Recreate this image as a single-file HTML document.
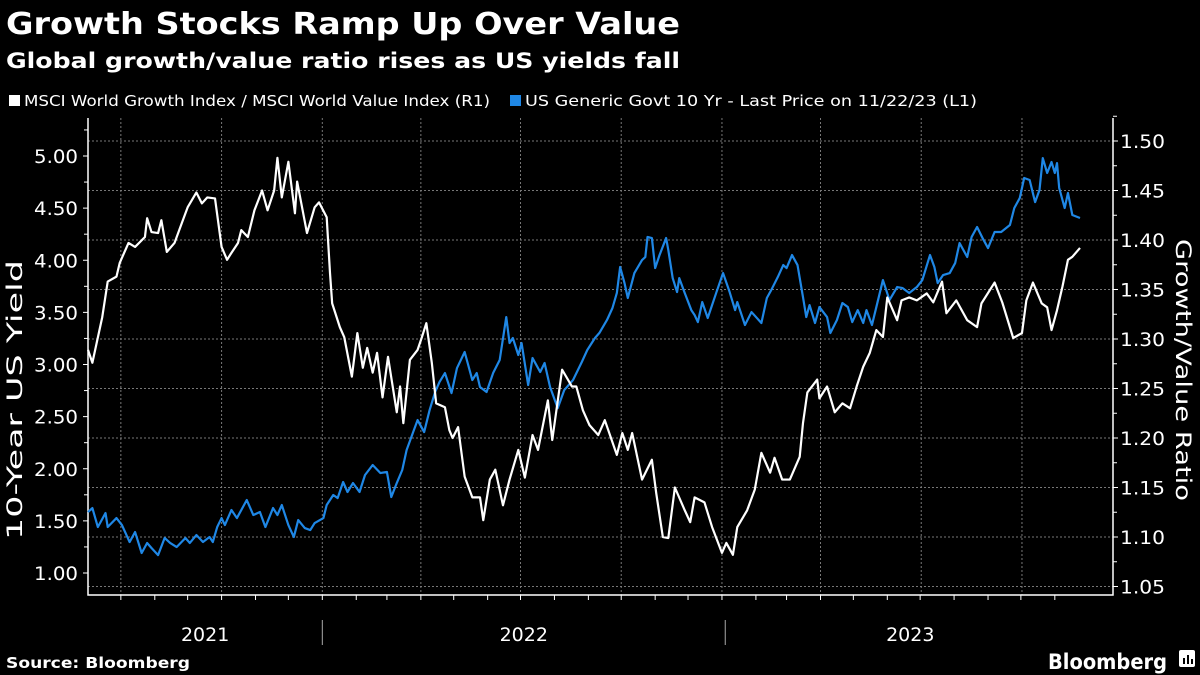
<!DOCTYPE html>
<html><head><meta charset="utf-8">
<style>
body{margin:0;background:#000;width:1200px;height:675px;overflow:hidden;font-family:"DejaVu Sans","Liberation Sans",sans-serif;color:#fff}
svg{position:absolute;left:0;top:0}
</style></head>
<body>
<svg id="chart" width="1200" height="675">
<text x="6" y="34" font-size="30" font-weight="bold" fill="#fff" textLength="674" lengthAdjust="spacingAndGlyphs">Growth Stocks Ramp Up Over Value</text>
<text x="6" y="68" font-size="21" font-weight="bold" fill="#fff" textLength="674" lengthAdjust="spacingAndGlyphs">Global growth/value ratio rises as US yields fall</text>
<g>
<rect x="9" y="95" width="11" height="11" fill="#fff"/>
<text x="24" y="106" font-size="15" fill="#fff" textLength="466" lengthAdjust="spacingAndGlyphs">MSCI World Growth Index / MSCI World Value Index (R1)</text>
<rect x="510" y="95" width="11" height="11" fill="#1f87e5"/>
<text x="525" y="106" font-size="15" fill="#fff" textLength="452" lengthAdjust="spacingAndGlyphs">US Generic Govt 10 Yr - Last Price on 11/22/23 (L1)</text>
</g>
<text transform="translate(22,400) rotate(-90)" text-anchor="middle" font-size="21" fill="#fff" textLength="280" lengthAdjust="spacingAndGlyphs">10-Year US Yield</text>
<text transform="translate(1176,370) rotate(90)" text-anchor="middle" font-size="21" fill="#fff" textLength="262" lengthAdjust="spacingAndGlyphs">Growth/Value Ratio</text>
<text x="6" y="668" font-size="15" font-weight="bold" fill="#fff" textLength="184" lengthAdjust="spacingAndGlyphs">Source: Bloomberg</text>
<text x="1048" y="669" font-size="21" font-weight="bold" fill="#fff" textLength="119" lengthAdjust="spacingAndGlyphs">Bloomberg</text>
<g><rect x="1179" y="650" width="16" height="17" rx="2" fill="#fff"/><rect x="1183" y="658" width="2" height="6" fill="#000"/><rect x="1187" y="655" width="2" height="9" fill="#000"/><rect x="1191" y="659" width="2" height="5" fill="#000"/></g>
<g id="grid"></g><g id="axes"></g><g id="series"></g>
</svg>
<script>
const yieldDays=[0,4,9,16,18,26,31,38,43,49,54,58,64,70,75,81,89,93,99,105,111,114,118,122,125,131,136,145,151,157,162,169,173,177,183,188,192,198,203,207,215,218,224,228,233,237,242,248,253,260,267,273,277,282,287,291,297,301,307,312,317,321,326,332,337,344,351,355,358,364,370,376,382,385,388,393,396,402,406,413,417,422,429,435,443,451,456,463,467,474,479,483,486,490,493,499,506,509,511,515,518,522,528,530,534,538,540,545,551,554,557,561,566,574,580,586,591,593,600,606,615,620,624,630,635,638,643,648,653,656,659,664,668,675,678,684,689,694,698,703,708,711,716,720,726,732,739,744,750,757,762,769,773,776,781,787,792,796,803,807,812,817,822,828,834,842,846,851,855,860,865,869,872,876,880,883,885,887,892,895,899,906];
const yieldValues=[1.585,1.623,1.441,1.575,1.441,1.527,1.460,1.297,1.393,1.192,1.288,1.240,1.172,1.336,1.288,1.249,1.336,1.288,1.364,1.297,1.345,1.297,1.441,1.527,1.460,1.604,1.527,1.700,1.556,1.585,1.441,1.623,1.556,1.652,1.460,1.345,1.508,1.431,1.412,1.479,1.527,1.652,1.748,1.719,1.873,1.777,1.863,1.777,1.940,2.036,1.959,1.969,1.729,1.863,1.988,2.180,2.352,2.467,2.352,2.563,2.736,2.832,2.918,2.726,2.966,3.120,2.851,2.918,2.784,2.736,2.918,3.043,3.455,3.206,3.254,3.091,3.206,2.803,3.062,2.928,3.014,2.784,2.582,2.755,2.851,3.024,3.139,3.254,3.302,3.427,3.542,3.686,3.935,3.781,3.638,3.877,4.002,4.031,4.223,4.213,3.925,4.050,4.213,4.098,3.829,3.695,3.829,3.686,3.522,3.475,3.407,3.599,3.446,3.695,3.877,3.695,3.522,3.599,3.379,3.503,3.398,3.638,3.714,3.839,3.954,3.925,4.050,3.954,3.647,3.455,3.570,3.398,3.551,3.455,3.302,3.427,3.590,3.551,3.407,3.522,3.398,3.522,3.379,3.551,3.810,3.618,3.743,3.733,3.686,3.743,3.810,4.050,3.935,3.781,3.858,3.877,3.973,4.165,4.031,4.223,4.319,4.213,4.117,4.271,4.271,4.338,4.501,4.597,4.789,4.770,4.558,4.674,4.980,4.837,4.942,4.837,4.932,4.693,4.501,4.645,4.434,4.405];
const ratioDays=[0,4,13,18,26,29,37,43,52,54,58,64,67,72,79,86,91,99,104,109,116,122,127,131,137,140,146,152,159,164,170,173,177,183,189,191,200,207,211,218,221,223,230,234,241,246,251,255,260,264,269,274,282,285,288,294,301,305,309,314,318,326,330,333,338,344,351,358,361,367,372,379,385,393,399,406,411,420,424,433,442,446,452,458,466,472,483,488,493,497,506,515,519,525,530,536,545,550,554,563,570,579,583,589,593,602,609,615,623,627,634,641,650,653,657,666,668,675,682,689,696,702,708,714,720,726,730,739,743,750,757,766,772,780,784,793,803,812,816,828,835,845,853,857,863,871,876,880,885,890,895,899,906];
const ratioValues=[1.289,1.276,1.322,1.358,1.363,1.377,1.397,1.393,1.403,1.422,1.408,1.407,1.420,1.388,1.397,1.418,1.433,1.448,1.437,1.443,1.442,1.393,1.380,1.387,1.397,1.410,1.403,1.430,1.450,1.430,1.450,1.483,1.443,1.479,1.427,1.459,1.407,1.433,1.438,1.423,1.367,1.336,1.312,1.302,1.262,1.306,1.271,1.291,1.266,1.286,1.241,1.282,1.226,1.252,1.215,1.279,1.289,1.302,1.316,1.276,1.235,1.231,1.208,1.200,1.211,1.161,1.140,1.140,1.117,1.158,1.168,1.132,1.158,1.188,1.160,1.203,1.188,1.238,1.198,1.269,1.252,1.252,1.228,1.213,1.203,1.218,1.183,1.205,1.188,1.205,1.158,1.178,1.144,1.100,1.099,1.150,1.127,1.115,1.140,1.135,1.110,1.084,1.094,1.082,1.110,1.127,1.148,1.185,1.165,1.180,1.158,1.158,1.181,1.215,1.246,1.259,1.240,1.252,1.226,1.235,1.230,1.252,1.272,1.286,1.309,1.302,1.342,1.319,1.339,1.342,1.339,1.346,1.337,1.358,1.326,1.339,1.319,1.312,1.336,1.357,1.337,1.301,1.306,1.339,1.357,1.336,1.332,1.309,1.329,1.353,1.380,1.383,1.392];
const leftTicks=[1.00,1.50,2.00,2.50,3.00,3.50,4.00,4.50,5.00];
const rightTicks=[1.05,1.10,1.15,1.20,1.25,1.30,1.35,1.40,1.45,1.50];
const yearLabels=["2021","2022","2023"];
const yearCenters=[107,398,751];
const yearBreaks=[214,582];
const quarterDays=[30,122,214,304,395,487,579,669,761,853];
const monthDays=[30,61,91,122,153,183,214,245,273,304,334,365,395,426,457,487,518,548,579,610,638,669,699,730,760,791,822,852,883];

const NS="http://www.w3.org/2000/svg";
const X0=88,X1=1113,Y0=118,YB=595;
const xS=d=>88+d*992/906;
const yL=v=>156+(5-v)*104.25;
const yR=v=>141+(1.5-v)*990;
function mk(tag,attrs,parent){const e=document.createElementNS(NS,tag);for(const k in attrs)e.setAttribute(k,attrs[k]);parent.appendChild(e);return e;}
const grid=document.getElementById('grid'),axes=document.getElementById('axes'),ser=document.getElementById('series');
rightTicks.forEach(v=>{const l=mk('line',{x1:X0,x2:X1,y1:yR(v),y2:yR(v),stroke:'#777','stroke-dasharray':'2,2','stroke-width':1},grid);


const t=mk('text',{x:1120,y:yR(v)+7,'font-size':19,fill:'#fff',textLength:45,lengthAdjust:'spacingAndGlyphs'},axes);t.textContent=v.toFixed(2);


mk('line',{x1:X1,x2:X1+5,y1:yR(v),y2:yR(v),stroke:'#fff'},axes);
mk('line',{x1:X1,x2:X1+4,y1:yR(v+0.025),y2:yR(v+0.025),stroke:'#fff'},axes);});
leftTicks.forEach(v=>{const t=mk('text',{x:78,y:yL(v)+7,'font-size':19,fill:'#fff','text-anchor':'end',textLength:44,lengthAdjust:'spacingAndGlyphs'},axes);t.textContent=v.toFixed(2);


mk('line',{x1:X0-5,x2:X0,y1:yL(v),y2:yL(v),stroke:'#fff'},axes);
mk('line',{x1:X0-4,x2:X0,y1:yL(v+0.25),y2:yL(v+0.25),stroke:'#fff'},axes);});
quarterDays.forEach(d=>{const l=mk('line',{x1:xS(d),x2:xS(d),y1:Y0,y2:YB,stroke:'#777','stroke-dasharray':'2,2'},grid);

});
monthDays.forEach(d=>{mk('line',{x1:xS(d),x2:xS(d),y1:YB,y2:YB+5,stroke:'#fff'},axes);});
yearBreaks.forEach(d=>{const l=mk('line',{x1:xS(d),x2:xS(d),y1:620,y2:645,stroke:'#aaa'},axes);

});
yearLabels.forEach((s,i)=>{const t=mk('text',{x:xS(yearCenters[i]),y:641,'font-size':19,fill:'#fff','text-anchor':'middle'},axes);t.textContent=s;

});
const ax=mk('path',{d:`M${X0},${Y0}V${YB}H${X1}V${Y0}`,fill:'none',stroke:'#fff','stroke-width':1.5},axes);


const bl=mk('polyline',{points:yieldDays.map((d,i)=>xS(d)+','+yL(yieldValues[i])).join(' '),fill:'none',stroke:'#1f87e5','stroke-width':2.2,'stroke-linejoin':'round'},ser);


const wl=mk('polyline',{points:ratioDays.map((d,i)=>xS(d)+','+yR(ratioValues[i])).join(' '),fill:'none',stroke:'#fff','stroke-width':2.2,'stroke-linejoin':'round'},ser);


</script>
</body></html>
